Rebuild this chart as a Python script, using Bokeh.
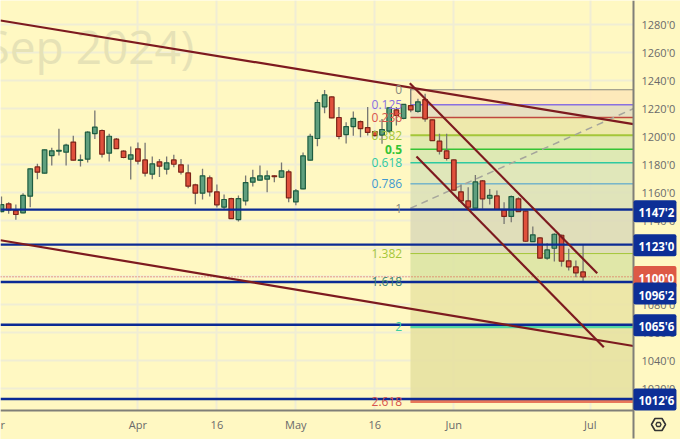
from bokeh.plotting import figure
from bokeh.models import Label, FixedTicker, PolyAnnotation, ColumnDataSource, LinearAxis, Grid
from bokeh.core.properties import value
from bokeh.embed import file_html
from bokeh.resources import INLINE

FONT = "Open Sans"
BG = "#fff8c2"
GRID = "#f0edd4"
TICK_COL = "#6a6a6a"

open_ = [1146.6,1152.1,1147.3,1145.7,1157.6,1178.5,1174.0,1186.6,1189.7,1189.0,1196.2,1183.1,1184.0,1202.3,1204.5,1188.3,1198.3,1189.7,1184.0,1191.4,
         1183.5,1173.3,1182.1,1176.9,1183.5,1180.0,1174.2,1165.7,1159.7,1170.7,1160.7,1149.7,1155.9,1140.9,1154.2,1167.6,1169.0,1169.7,1172.1,1171.1,
         1175.0,1153.5,1162.8,1183.3,1198.8,1221.4,1228.5,1213.8,1201.6,1207.3,1210.9,1206.6,1203.8,1201.2,1204.0,1219.2,1213.1,1222.3,1218.1,1226.6,
         1212.1,1196.9,1190.0,1183.5,1160.7,1154.2,1149.0,1168.5,1156.1,1157.8,1147.8,1143.1,1155.7,1146.9,1125.2,1127.8,1113.3,1120.4,1129.7,1111.4,1107.1,1103.5]
high = [1157.3,1153.3,1151.6,1159.7,1177.6,1180.7,1190.9,1192.1,1205.7,1195.0,1200.7,1187.3,1204.0,1218.8,1205.2,1202.1,1199.2,1190.4,1193.0,1195.9,
        1195.7,1185.9,1184.2,1185.9,1187.1,1184.2,1180.2,1166.4,1177.1,1172.3,1165.9,1158.8,1156.4,1158.1,1172.3,1176.4,1179.5,1175.9,1172.6,1181.6,
        1176.4,1162.8,1188.8,1202.1,1226.6,1233.5,1228.8,1221.2,1210.4,1218.1,1211.6,1221.2,1204.5,1212.8,1221.2,1221.2,1223.5,1234.2,1227.1,1230.7,
        1212.3,1202.1,1202.1,1183.8,1165.9,1164.0,1172.8,1169.2,1162.8,1161.6,1153.3,1158.1,1156.9,1147.1,1135.9,1128.3,1124.0,1131.2,1130.2,1120.0,1111.6,1122.8]
low = [1146.1,1145.0,1140.7,1145.4,1149.7,1169.7,1173.8,1179.5,1186.6,1179.5,1183.1,1178.8,1181.6,1198.5,1185.2,1182.3,1191.4,1184.7,1169.5,1180.2,
       1171.6,1169.7,1171.2,1173.1,1178.3,1173.1,1163.3,1151.9,1155.2,1157.3,1149.5,1147.8,1141.4,1139.5,1150.9,1164.5,1168.8,1160.4,1167.6,1170.7,
       1153.3,1151.1,1162.6,1183.1,1193.3,1216.9,1213.3,1198.3,1195.2,1200.7,1199.7,1200.9,1200.2,1195.0,1202.8,1208.1,1212.6,1217.6,1217.1,1210.7,
       1197.1,1187.3,1183.1,1161.6,1153.3,1147.3,1148.8,1148.5,1151.6,1147.8,1137.8,1139.0,1146.4,1125.0,1125.0,1112.8,1112.1,1110.9,1107.3,1104.5,1099.7,1095.9]
close = [1151.6,1147.8,1144.5,1158.1,1177.1,1174.7,1190.7,1190.0,1190.4,1194.0,1183.3,1183.5,1203.3,1206.9,1187.6,1200.4,1191.6,1185.2,1187.1,1182.6,
         1174.0,1180.7,1179.0,1181.4,1180.4,1174.7,1164.7,1159.7,1172.1,1160.7,1151.4,1155.2,1141.6,1155.9,1167.3,1170.7,1172.1,1172.1,1171.6,1175.7,
         1156.4,1161.4,1186.4,1200.4,1224.5,1230.0,1213.5,1200.2,1207.3,1213.1,1205.9,1203.1,1200.9,1205.2,1220.7,1215.2,1223.1,1219.2,1225.0,1212.8,
         1197.3,1189.7,1184.5,1161.9,1154.2,1149.7,1167.8,1155.7,1158.1,1148.1,1143.1,1157.3,1146.6,1125.4,1130.0,1113.3,1119.2,1130.4,1111.2,1107.1,1102.8,1100.0]

y_ticks = list(range(1020, 1281, 20))
y_labels = {t: f"{t}'0" for t in y_ticks}
x_ticks = [20, 31, 42, 53, 64, 83]
x_label_ticks = [1.1] + x_ticks
x_labels = {1.1: "r", 20: "Apr", 31: "16", 42: "May", 53: "16", 64: "Jun", 83: "Jul"}

fib_names = ["0", "0.125", "0.236", "0.382", "0.5", "0.618", "0.786", "1", "1.382", "1.618", "2", "2.618"]
fib_prices = [1233.6, 1222.9, 1213.8, 1201.1, 1191.1, 1181.4, 1166.4, 1148.5, 1116.6, 1096.5, 1064.3, 1011.0]
fib_colors = ["#8a8a80", "#8a6fe0", "#c0483f", "#a4c639", "#35c435", "#2ec9a0", "#3f9ad0", "#8a8a80", "#a4c639", "#3f8f80", "#4fd6a4", "#e8785a"]
fib_text_colors = ["#8a8a80", "#8a6fe0", "#d8544a", "#a4c639", "#35c435", "#2ec9a0", "#3f9ad0", "#8a8a80", "#a4c639", "#3a7f70", "#3fcfa0", "#d8544a"]
fib_styles = ["normal", "normal", "normal", "normal", "bold", "normal", "normal", "normal", "normal", "normal", "normal", "normal"]
fib_widths = [1, 1.5, 1.5, 2, 1.5, 1.5, 1, 1, 1, 1, 3, 3]
band_colors = ["#fde6b8", "#e4dcc0", "#ece6a8", "#dde6ac", "#dae6b2", "#dce4b8", "#dce0b8", "#dcdab8", "#dce4a4", "#eae4a4", "#e6e0a0"]

level_prices = [1148.0, 1123.0, 1096.25, 1065.75, 1012.75]
badge_texts = ["1147'2", "1123'0", "1100'0", "1096'2", "1065'6", "1012'6"]
badge_prices = [1146.9, 1122.6, 1099.9, 1088.0, 1065.4, 1012.4]
badge_colors = ["#0d2f96", "#0d2f96", "#dd5a45", "#0d2f96", "#0d2f96", "#0d2f96"]
last_price = 1100.0

trend_x = [[0.861, 89.02], [0.861, 89.02], [57.87, 83.97], [58.8, 84.89]]
trend_y = [[1283.1, 1209.1], [1126.1, 1050.6], [1238.3, 1102.6], [1185.9, 1049.7]]
dash_x = [57.96, 88.98]
dash_y = [1149.0, 1220.0]
fib_start = 57.96
x_left, x_right = 0.861, 89.02      # the chart pane
y_bottom, y_top = 1004.5, 1297.36
x_end, y_end = 95.57, 983.79        # the whole page, axis strips included

p = figure(width=680, height=439, x_range=(x_left, x_end), y_range=(y_end, y_top),
           x_axis_location=None, y_axis_location=None, output_backend="svg", toolbar_location=None,
           min_border=0, background_fill_color=BG, border_fill_color=BG, outline_line_color=None)
p.grid.visible = False

p.add_layout(Grid(dimension=0, ticker=FixedTicker(ticks=x_ticks), grid_line_color=GRID, grid_line_width=2))
p.add_layout(Grid(dimension=1, ticker=FixedTicker(ticks=y_ticks), grid_line_color=GRID, grid_line_width=2))

xaxis = LinearAxis(ticker=FixedTicker(ticks=x_label_ticks), major_label_overrides=x_labels,
                   fixed_location=y_bottom, bounds=(x_left, x_right))
yaxis = LinearAxis(ticker=FixedTicker(ticks=y_ticks), major_label_overrides=y_labels,
                   fixed_location=x_right, bounds=(984.5, y_top))
for ax in (xaxis, yaxis):
    ax.axis_line_color = "#807f78"
    ax.axis_line_width = 2
    ax.major_tick_line_color = None
    ax.minor_tick_line_color = None
    ax.major_tick_out = 0
    ax.major_tick_in = 0
    ax.major_label_text_font = FONT
    ax.major_label_text_font_size = "11px"
    ax.major_label_text_color = TICK_COL
yaxis.major_label_standoff = 8
xaxis.major_label_standoff = 6
p.add_layout(xaxis, "below")
p.add_layout(yaxis, "right")

# strips of background that keep the grid out of the axis areas
p.quad(left=[x_right, x_left], right=[x_end, x_end], top=[y_top, y_bottom], bottom=[y_end, y_end],
       fill_color=BG, line_color=None)

# watermark
p.add_layout(Label(x=-16, y=394, x_units="screen", y_units="screen", text="Sep 2024)", text_font=FONT,
                   text_font_size="46px", text_color="#e6e2b6", text_baseline="alphabetic", level="underlay"))

# Fibonacci bands and levels
p.quad(left=fib_start, right=x_right, top=fib_prices[:-1], bottom=fib_prices[1:],
       fill_color=band_colors, fill_alpha=0.88, line_color=None)
p.segment(x0=fib_start, x1=x_right, y0=fib_prices, y1=fib_prices, line_color=fib_colors, line_width=fib_widths)
p.line(dash_x, dash_y, line_color="#a5a59c", line_width=1.5, line_dash="7 5")

# candles
idx = list(range(1, len(close) + 1))
src = ColumnDataSource(dict(
    x=idx, high=high, low=low,
    top=[max(o, c) for o, c in zip(open_, close)],
    bot=[min(o, c) for o, c in zip(open_, close)],
    fill=["#5f9f7e" if c >= o else "#e0503c" for o, c in zip(open_, close)],
    edge=["#1d5c40" if c >= o else "#7c2418" for o, c in zip(open_, close)],
))
p.segment(x0="x", x1="x", y0="low", y1="high", source=src, line_color="#777772", line_width=1.3)
p.vbar(x="x", width=0.64, top="top", bottom="bot", source=src, fill_color="fill", line_color="edge", line_width=1.2)

# horizontal levels
p.segment(x0=x_left, x1=x_right, y0=level_prices, y1=level_prices, line_color="#0b2a94", line_width=2.4)
p.segment(x0=x_left, x1=x_right, y0=last_price, y1=last_price, line_color="#e04a3c", line_width=1, line_dash="1 2")

# trend lines
p.multi_line(trend_x, trend_y, line_color="#7d1a1f", line_width=2.2)

# Fibonacci labels
fib_src = ColumnDataSource(dict(x=[56.8] * len(fib_names), y=fib_prices, t=fib_names, c=fib_text_colors, s=fib_styles))
p.text(x="x", y="y", text="t", text_color="c", text_font_style="s", source=fib_src,
       text_align="right", text_baseline="middle", text_font=value(FONT), text_font_size="12px")

# price badges
for t, y, c in zip(badge_texts, badge_prices, badge_colors):
    p.add_layout(Label(x=633, x_units="screen", y=y, y_units="data", text=t, text_color="white",
                       text_font=FONT, text_font_style="bold", text_font_size="11.5px",
                       text_baseline="middle", background_fill_color=c,
                       padding=(5, 2, 5, 2), border_radius=2))

# settings icon
p.add_layout(PolyAnnotation(xs=[651, 654.5, 661.5, 665, 661.5, 654.5], ys=[15, 21, 21, 15, 9, 9],
                            xs_units="screen", ys_units="screen", fill_alpha=0, line_color="#333333", line_width=1.6, line_alpha=1))
p.add_layout(PolyAnnotation(xs=[655.5, 656.5, 659.5, 660.5, 659.5, 656.5], ys=[15, 17, 17, 15, 13, 13],
                            xs_units="screen", ys_units="screen", fill_alpha=0, line_color="#333333", line_width=1.4, line_alpha=1))

open("out.html", "w").write(file_html(p, INLINE))
